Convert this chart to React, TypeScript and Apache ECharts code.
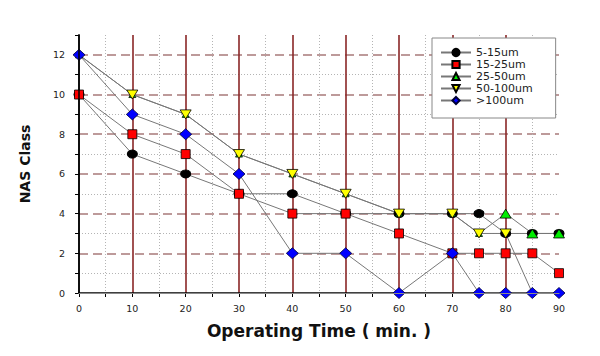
import React, { useEffect, useRef } from "react";
import * as echarts from "echarts";

const xValues = [0, 10, 20, 30, 40, 50, 60, 70, 75, 80, 85, 90];
const s5_15 = [10, 7, 6, 5, 5, 4, 4, 4, 4, 3, 3, 3];
const s15_25 = [10, 8, 7, 5, 4, 4, 3, 2, 2, 2, 2, 1];
const s25_50 = [12, 10, 9, 7, 6, 5, 4, 4, 3, 4, 3, 3];
const s50_100 = [12, 10, 9, 7, 6, 5, 4, 4, 3, 3, 0, 0];
const s100 = [12, 9, 8, 6, 2, 2, 0, 2, 0, 0, 0, 0];
const seriesNames = ["5-15um", "15-25um", "25-50um", "50-100um", ">100um"];
const xAxisTitle = "Operating Time ( min. )";
const yAxisTitle = "NAS Class";
const xMin = 0, xMax = 90, xMajor = 10, xMinor = 5;
const yMin = 0, yMax = 13, yMajor = 2, yMinor = 1;

const FONT = "DejaVu Sans";

export default function App() {
  const ref = useRef<HTMLDivElement>(null);
  useEffect(() => {
    if (!ref.current) return;
    const chart = echarts.init(ref.current, null, { renderer: "svg" });
    const pairs = (ys: number[]) => xValues.map((x, i) => [x, ys[i]]);
    const lineColor = "#777777";
    const common = {
      type: "line",
      xAxisIndex: 0,
      yAxisIndex: 0,
      lineStyle: { color: lineColor, width: 1 },
      emphasis: { disabled: true },
    };
    const nX = Math.round((xMax - xMin) / xMinor);
    const xDotColors = Array.from({ length: nX + 1 }, (_, i) =>
      i % 2 === 1 ? "#b4b4b4" : "rgba(0,0,0,0)"
    );
    const xRedColors = Array.from({ length: (xMax - xMin) / xMajor + 1 }, (_, i) =>
      i === 0 || i === (xMax - xMin) / xMajor ? "rgba(0,0,0,0)" : "#8a2626"
    );
    const nY = Math.round((yMax - yMin) / yMinor);
    const yDotColors = Array.from({ length: nY + 1 }, (_, i) =>
      i % 2 === 1 && i !== nY ? "#b4b4b4" : "rgba(0,0,0,0)"
    );
    const yDashColors = Array.from({ length: nY + 1 }, (_, i) =>
      i % 2 === 0 && i !== 0 ? "#a87a7a" : "rgba(0,0,0,0)"
    );
    // markers that lie underneath a later series' marker are drawn smaller
    const greenSize = (v: number[]) => {
      const idx = xValues.indexOf(v[0]);
      return s50_100[idx] === v[1] ? [7, 6] : [11, 9];
    };
    const yellowSize = (v: number[]) => {
      const idx = xValues.indexOf(v[0]);
      return s100[idx] === v[1] ? [5, 4] : [11, 9];
    };
    const option = {
      animation: false,
      backgroundColor: "#ffffff",
      textStyle: { fontFamily: FONT },
      grid: { left: 79, right: 41, top: 35, bottom: 63 },
      legend: {
        left: 432,
        top: 38,
        orient: "vertical",
        backgroundColor: "#ffffff",
        borderColor: "#888888",
        borderWidth: 1,
        padding: [9, 23, 12, 8],
        itemWidth: 30,
        itemHeight: 9,
        itemGap: 1,
        itemTextGap: 7,
        textStyle: { fontFamily: FONT, fontSize: 11, color: "#222" },
        data: seriesNames,
      },
      xAxis: [
        {
          type: "value",
          min: xMin,
          max: xMax,
          interval: xMinor,
          position: "bottom",
          axisLine: { show: true, lineStyle: { color: "#000", width: 1.5 } },
          axisTick: { show: true, length: 4, lineStyle: { color: "#000" } },
          axisLabel: {
            margin: 10,
            fontSize: 9.5,
            color: "#222",
            fontFamily: FONT,
            formatter: (v: number) => (v % xMajor === 0 ? String(v) : ""),
          },
          splitLine: { show: true, lineStyle: { color: xDotColors, type: [1, 2], width: 1 } },
          name: xAxisTitle,
          nameLocation: "middle",
          nameGap: 29,
          nameTextStyle: { fontFamily: FONT, fontSize: 17, fontWeight: "bold", color: "#111" },
        },
        {
          type: "value",
          min: xMin,
          max: xMax,
          interval: xMajor,
          position: "bottom",
          axisLine: { show: false },
          axisTick: { show: false },
          axisLabel: { show: false },
          splitLine: { show: true, lineStyle: { color: xRedColors, width: 1.6 } },
        },
        {
          type: "value",
          min: xMin,
          max: xMax,
          position: "top",
          z: 5,
          axisLine: { show: true, lineStyle: { color: "#8a8a8a", width: 1.2 } },
          axisTick: { show: false },
          axisLabel: { show: false },
          splitLine: { show: false },
        },
      ],
      yAxis: [
        {
          type: "value",
          min: yMin,
          max: yMax,
          interval: yMinor,
          position: "left",
          axisLine: { show: true, lineStyle: { color: "#000", width: 1.5 } },
          axisTick: { show: true, length: 4, lineStyle: { color: "#000" } },
          axisLabel: {
            margin: 14,
            fontSize: 9.5,
            color: "#222",
            fontFamily: FONT,
            formatter: (v: number) => (v % yMajor === 0 && v < yMax ? String(v) : ""),
          },
          splitLine: { show: true, lineStyle: { color: yDotColors, type: [1, 2], width: 1 } },
          name: yAxisTitle,
          nameLocation: "middle",
          nameGap: 47,
          nameTextStyle: { fontFamily: FONT, fontSize: 14, fontWeight: "bold", color: "#111" },
        },
        {
          type: "value",
          min: yMin,
          max: yMax,
          interval: yMinor,
          position: "left",
          axisLine: { show: false },
          axisTick: { show: false },
          axisLabel: { show: false },
          splitLine: { show: true, lineStyle: { color: yDashColors, type: [9, 5], width: 1.5 } },
        },
        {
          type: "value",
          min: yMin,
          max: yMax,
          position: "right",
          z: 5,
          axisLine: { show: true, lineStyle: { color: "#000", width: 1.5 } },
          axisTick: { show: false },
          axisLabel: { show: false },
          splitLine: { show: false },
        },
      ],
      series: [
        {
          ...common,
          name: seriesNames[0],
          data: pairs(s5_15),
          symbol: "circle",
          symbolSize: [10, 8],
          itemStyle: { color: "#000000", borderColor: "#000", borderWidth: 1 },
        },
        {
          ...common,
          name: seriesNames[1],
          data: pairs(s15_25),
          symbol: "rect",
          symbolSize: [9, 9],
          itemStyle: { color: "#ff0000", borderColor: "#000", borderWidth: 0.8 },
        },
        {
          ...common,
          name: seriesNames[2],
          data: pairs(s25_50),
          symbol: "triangle",
          symbolSize: greenSize,
          itemStyle: { color: "#00ee00", borderColor: "#000", borderWidth: 0.8 },
        },
        {
          ...common,
          name: seriesNames[3],
          data: pairs(s50_100),
          symbol: "triangle",
          symbolRotate: 180,
          symbolSize: yellowSize,
          itemStyle: { color: "#ffff00", borderColor: "#000", borderWidth: 0.8 },
        },
        {
          ...common,
          name: seriesNames[4],
          data: pairs(s100),
          symbol: "diamond",
          symbolSize: [12, 11],
          itemStyle: { color: "#0000ff", borderColor: "#000033", borderWidth: 0.8 },
        },
      ],
    };
    chart.setOption(option as any);
    return () => chart.dispose();
  }, []);
  return (
    <div
      ref={ref}
      style={{ position: "fixed", left: 0, top: 0, width: 600, height: 356, background: "#fff" }}
    />
  );
}
